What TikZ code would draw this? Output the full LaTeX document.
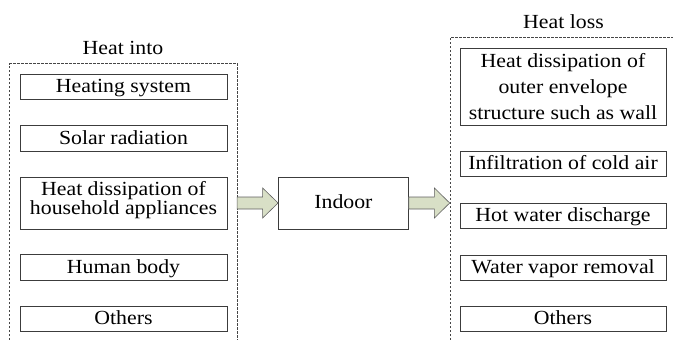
\documentclass[tikz,border=0pt]{standalone}
\usepackage{fontspec}
\usepackage{graphicx}
\setmainfont{Liberation Serif}
\usetikzlibrary{calc}
\newcommand{\hs}[1]{\scalebox{1.09}[1]{#1}}
\definecolor{boxc}{RGB}{60,60,60}
\definecolor{dashc}{RGB}{70,70,70}
\definecolor{arrfill}{RGB}{216,223,198}
\definecolor{arrline}{RGB}{95,95,95}
\begin{document}
\begin{tikzpicture}[x=1pt,y=-1pt,
  base/.style={draw=boxc, line width=0.8pt, inner sep=0pt, align=center},
  item/.style={base, minimum height=25.5pt, text height=12.6pt, text depth=1pt,
    font=\fontsize{20}{24}\selectfont},
  leftitem/.style={item, minimum width=207pt},
  rightitem/.style={item, minimum width=206pt},
  grp/.style={draw=dashc, line width=0.6pt, dash pattern=on 2.5pt off 1.5pt},
  title/.style={anchor=base, inner sep=0pt, font=\fontsize{20}{24}\selectfont},
  bigarrow/.style={draw=arrline, fill=arrfill, line width=0.6pt, line join=miter}]
\useasboundingbox (0,0) rectangle (673,340);

% group frames
\coordinate (lgBL) at (9.5,340);
\coordinate (lgTL) at (9.5,63.5);
\coordinate (lgTR) at (237.5,63.5);
\coordinate (lgBR) at (237.5,340);
\draw[grp] (lgBL) -- (lgTL) -- (lgTR) -- (lgBR);
\coordinate (rgBL) at (450,340);
\coordinate (rgTL) at (450,37);
\coordinate (rgTR) at (673,37);
\draw[grp] (rgBL) -- (rgTL) -- (rgTR);

% titles
\node[title] (tin) at (123,54.3) {\hs{Heat into}};
\node[title] (tloss) at (563.5,28) {\hs{Heat loss}};

% left items
\node[leftitem] (l1) at (123.5,86.75) {\hs{Heating system}};
\node[leftitem] (l2) at (123.5,138.25) {\hs{Solar radiation}};
\node[base, minimum width=207pt, minimum height=52pt, font=\fontsize{20}{19.5}\selectfont]
  (l3) at (123.5,203) {\hs{Heat dissipation of}\\\hs{household appliances}\rule[-10pt]{0pt}{10pt}};
\node[leftitem] (l4) at (123.5,267.5) {\hs{Human body}};
\node[leftitem] (l5) at (123.5,319) {\hs{Others}};

% indoor
\node[item, minimum width=129.8pt, minimum height=52pt] (indoor) at (343.4,203) {\hs{Indoor}};

% right items
\node[base, minimum width=206pt, minimum height=77.5pt, font=\fontsize{20}{26}\selectfont]
  (r1) at (563,86.75) {\hs{Heat dissipation of}\\\hs{outer envelope}\\\hs{structure such as wall}};
\node[rightitem] (r2) at (563,164) {\hs{Infiltration of cold air}};
\node[rightitem] (r3) at (563,216) {\hs{Hot water discharge}};
\node[rightitem] (r4) at (563,267.75) {\hs{Water vapor removal}};
\node[rightitem] (r5) at (563,319) {\hs{Others}};

% arrows
\coordinate (a1tip) at (indoor.west);
\draw[bigarrow] ($(a1tip)+(-41,-6)$) -- ($(a1tip)+(-15.5,-6)$) -- ($(a1tip)+(-15.5,-15)$)
  -- (a1tip) -- ($(a1tip)+(-15.5,15)$) -- ($(a1tip)+(-15.5,6)$) -- ($(a1tip)+(-41,6)$) -- cycle;
\coordinate (a2start) at (indoor.east);
\draw[bigarrow] ($(a2start)+(0,-6)$) -- ($(a2start)+(25.7,-6)$) -- ($(a2start)+(25.7,-15)$)
  -- ($(a2start)+(41,0)$) -- ($(a2start)+(25.7,15)$) -- ($(a2start)+(25.7,6)$) -- ($(a2start)+(0,6)$) -- cycle;
\end{tikzpicture}
\end{document}
